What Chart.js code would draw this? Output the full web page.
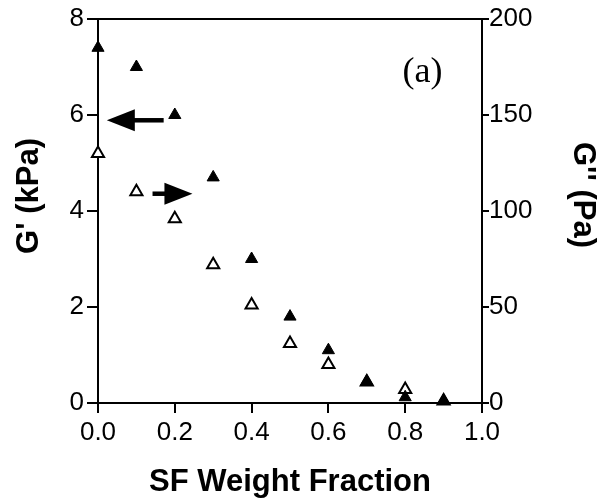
<!DOCTYPE html>
<html>
<head>
<meta charset="utf-8">
<script src="https://cdn.jsdelivr.net/npm/chart.js@4/dist/chart.umd.min.js"></script>
<style>
  body { margin: 0; background: #fff; }
  #wrap { width: 605px; height: 501px; }
</style>
</head>
<body>
<div id="wrap"><canvas id="chart"></canvas></div>
<script>
// SF weight fraction
const fractions = [0.0, 0.1, 0.2, 0.3, 0.4, 0.5, 0.6, 0.7, 0.8, 0.9];
// G' (kPa), filled triangles, left axis
const gPrime = [7.4, 7.0, 6.0, 4.7, 3.0, 1.8, 1.1, 0.45, 0.12, 0.05];
// G'' (Pa), open triangles, right axis
const gDouble = [130, 110, 96, 72, 51, 31, 20, 11, 7, 1];

const xTicks = [0, 0.2, 0.4, 0.6, 0.8, 1.0];
const leftTicks = [0, 2, 4, 6, 8];
const rightTicks = [0, 50, 100, 150, 200];

// arrows in data units of x / left axis: [tailX, headX, y]
const arrows = [
  [0.171, 0.023, 5.89],
  [0.142, 0.246, 4.36]
];

const font = "'Liberation Sans', Arial, sans-serif";

function pts(ys) {
  return fractions.map((x, i) => ({ x: x, y: ys[i] }));
}

const extras = {
  id: 'extras',
  afterDraw(chart) {
    const ctx = chart.ctx;
    const a = chart.chartArea;
    const sx = chart.scales.x, sy = chart.scales.y;
    ctx.save();
    // top frame line
    ctx.strokeStyle = '#000';
    ctx.lineWidth = 2;
    ctx.beginPath();
    ctx.moveTo(a.left, a.top);
    ctx.lineTo(a.right, a.top);
    ctx.stroke();

    // arrows
    arrows.forEach(ar => {
      const x0 = sx.getPixelForValue(ar[0]);
      const x1 = sx.getPixelForValue(ar[1]);
      const y = sy.getPixelForValue(ar[2]);
      const dir = x1 > x0 ? 1 : -1;
      const headLen = 28, headHalf = 11;
      ctx.fillStyle = '#000';
      ctx.lineWidth = 4.5;
      ctx.beginPath();
      ctx.moveTo(x0, y);
      ctx.lineTo(x1 - dir * headLen + dir * 2, y);
      ctx.stroke();
      ctx.beginPath();
      ctx.moveTo(x1, y);
      ctx.lineTo(x1 - dir * headLen, y - headHalf);
      ctx.lineTo(x1 - dir * headLen, y + headHalf);
      ctx.closePath();
      ctx.fill();
    });

    // panel label
    ctx.fillStyle = '#000';
    ctx.font = "36px 'Liberation Serif', 'Times New Roman', serif";
    ctx.textAlign = 'center';
    ctx.textBaseline = 'middle';
    ctx.fillText('(a)', sx.getPixelForValue(0.845), sy.getPixelForValue(6.88));

    // y axis titles
    ctx.font = 'bold 31px ' + font;
    ctx.save();
    ctx.translate(29, (a.top + a.bottom) / 2 - 15);
    ctx.rotate(-Math.PI / 2);
    ctx.fillText("G' (kPa)", 0, 0);
    ctx.restore();
    ctx.save();
    ctx.translate(583, (a.top + a.bottom) / 2 - 16);
    ctx.rotate(Math.PI / 2);
    ctx.fillText("G'' (Pa)", 0, 0);
    ctx.restore();
    ctx.restore();
  }
};

new Chart(document.getElementById('chart'), {
  type: 'scatter',
  data: {
    datasets: [
      {
        label: "G'",
        data: pts(gPrime),
        yAxisID: 'y',
        pointStyle: 'triangle',
        pointRadius: 7,
        pointBackgroundColor: '#000',
        pointBorderColor: '#000',
        pointBorderWidth: 1,
        clip: false
      },
      {
        label: "G''",
        data: pts(gDouble),
        yAxisID: 'y2',
        pointStyle: 'triangle',
        pointRadius: 7,
        pointBackgroundColor: '#fff',
        pointBorderColor: '#000',
        pointBorderWidth: 2,
        clip: false
      }
    ]
  },
  options: {
    responsive: true,
    maintainAspectRatio: false,
    animation: false,
    layout: { padding: { top: 19, left: 0, right: 0, bottom: 0 } },
    plugins: { legend: { display: false }, tooltip: { enabled: false } },
    scales: {
      x: {
        type: 'linear',
        min: 0, max: 1,
        afterFit(s) { s.height = 98; },
        afterBuildTicks(s) { s.ticks = xTicks.map(v => ({ value: v })); },
        ticks: {
          color: '#000', font: { family: font, size: 26 }, padding: 4,
          callback: v => v.toFixed(1)
        },
        grid: { drawOnChartArea: false, tickLength: 10, color: '#000', lineWidth: 2 },
        border: { color: '#000', width: 2 },
        title: {
          display: true, text: 'SF Weight Fraction', color: '#000',
          font: { family: font, size: 31, weight: 'bold' }, padding: { top: 6, bottom: 0 }
        }
      },
      y: {
        position: 'left',
        min: 0, max: 8,
        afterFit(s) { s.width = 98; },
        afterBuildTicks(s) { s.ticks = leftTicks.map(v => ({ value: v })); },
        ticks: { color: '#000', font: { family: font, size: 26 }, padding: 3 },
        grid: { drawOnChartArea: false, tickLength: 11, color: '#000', lineWidth: 2 },
        border: { color: '#000', width: 2 }
      },
      y2: {
        position: 'right',
        min: 0, max: 200,
        afterFit(s) { s.width = 123; },
        afterBuildTicks(s) { s.ticks = rightTicks.map(v => ({ value: v })); },
        ticks: { color: '#000', font: { family: font, size: 26 }, padding: 0 },
        grid: { drawOnChartArea: false, tickLength: 7, color: '#000', lineWidth: 2 },
        border: { color: '#000', width: 2 }
      }
    }
  },
  plugins: [extras]
});
</script>
</body>
</html>
